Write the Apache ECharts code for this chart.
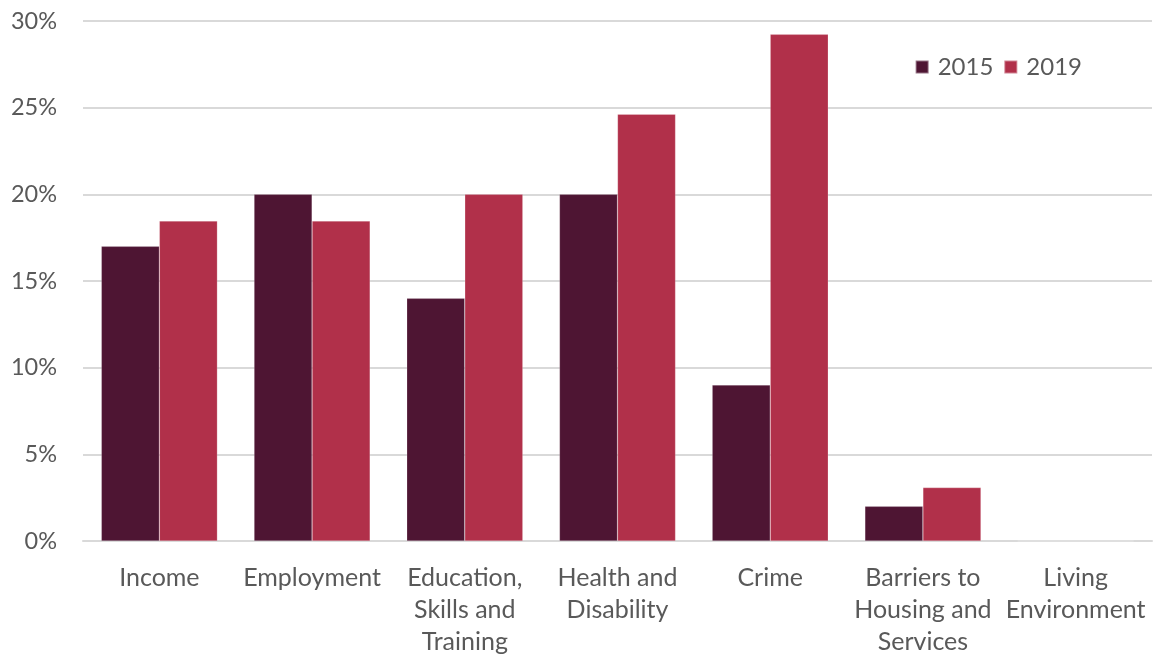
<!DOCTYPE html>
<html>
<head>
<meta charset="utf-8">
<script src="https://cdn.jsdelivr.net/npm/echarts@6/dist/echarts.min.js"></script>
<style>html,body{margin:0;padding:0;background:#fff;}#c{width:1153px;height:658px;}</style>
</head>
<body>
<div id="c"></div>
<script>
const categories = ["Income", "Employment", "Education,\nSkills and\nTraining", "Health and\nDisability", "Crime", "Barriers to\nHousing and\nServices", "Living\nEnvironment"];
const series2015 = [17.0, 20.0, 14.0, 20.0, 9.0, 2.0, 0];
const series2019 = [18.46, 18.46, 20.0, 24.62, 29.23, 3.08, 0];
const yTicks = [0, 5, 10, 15, 20, 25, 30];

const FONT = "Lato";
const chart = echarts.init(document.getElementById('c'), null, {renderer: 'canvas'});
chart.setOption({
  animation: false,
  textStyle: {fontFamily: FONT},
  grid: {left: 83, right: 1, top: 21, bottom: 117, containLabel: false},
  legend: {
    right: 66, top: 50,
    itemWidth: 13, itemHeight: 13, itemGap: 10,
    icon: 'rect',
    textStyle: {fontFamily: FONT, fontSize: 24, color: '#595959', padding: [0,0,0,4]},
    data: ['2015', '2019']
  },
  xAxis: {
    type: 'category',
    data: categories,
    axisLine: {lineStyle: {color: '#d9d9d9', width: 2}},
    axisTick: {show: false},
    axisLabel: {fontFamily: FONT, fontSize: 25, color: '#595959', lineHeight: 32, margin: 21, interval: 0, align: 'center'}
  },
  yAxis: {
    type: 'value',
    min: yTicks[0], max: yTicks[yTicks.length-1], interval: 5,
    axisLine: {show: false},
    axisTick: {show: false},
    splitLine: {lineStyle: {color: '#d9d9d9', width: 2}},
    axisLabel: {fontFamily: FONT, fontSize: 23.5, color: '#595959', margin: 26, formatter: v => v + '%'}
  },
  series: [
    {name: '2015', type: 'bar', data: series2015, barGap: '0%', barCategoryGap: '24%',
     itemStyle: {color: '#4E1533', borderColor: 'rgba(255,255,255,0.4)', borderWidth: 0.5}},
    {name: '2019', type: 'bar', data: series2019, barGap: '0%', barCategoryGap: '24%',
     itemStyle: {color: '#B1304A', borderColor: 'rgba(255,255,255,0.4)', borderWidth: 0.5}}
  ]
});
</script>
</body>
</html>
